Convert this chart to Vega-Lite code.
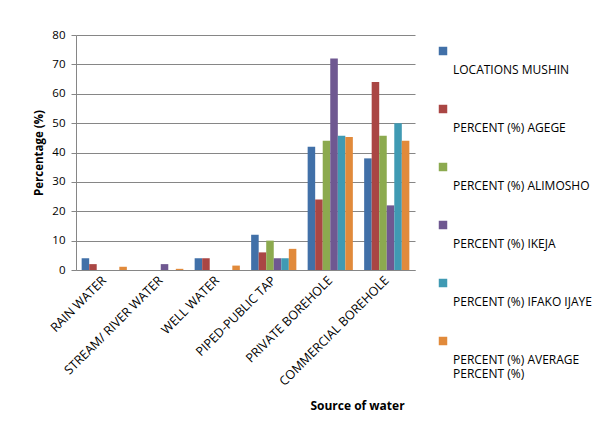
{
  "$schema": "https://vega.github.io/schema/vega-lite/v6.json",
  "width": 339,
  "height": 235,
  "autosize": "none",
  "padding": {"left": 76, "top": 35, "right": 199, "bottom": 151},
  "background": "white",
  "datasets": {
    "water": [
      {"source": "RAIN WATER", "series": "LOCATIONS MUSHIN", "value": 4},
      {"source": "RAIN WATER", "series": "PERCENT (%) AGEGE", "value": 2},
      {"source": "RAIN WATER", "series": "PERCENT (%) ALIMOSHO", "value": 0},
      {"source": "RAIN WATER", "series": "PERCENT (%) IKEJA", "value": 0},
      {"source": "RAIN WATER", "series": "PERCENT (%) IFAKO IJAYE", "value": 0},
      {"source": "RAIN WATER", "series": "PERCENT (%) AVERAGE PERCENT (%)", "value": 1.1},
      {"source": "STREAM/ RIVER WATER", "series": "LOCATIONS MUSHIN", "value": 0},
      {"source": "STREAM/ RIVER WATER", "series": "PERCENT (%) AGEGE", "value": 0},
      {"source": "STREAM/ RIVER WATER", "series": "PERCENT (%) ALIMOSHO", "value": 0},
      {"source": "STREAM/ RIVER WATER", "series": "PERCENT (%) IKEJA", "value": 2},
      {"source": "STREAM/ RIVER WATER", "series": "PERCENT (%) IFAKO IJAYE", "value": 0},
      {"source": "STREAM/ RIVER WATER", "series": "PERCENT (%) AVERAGE PERCENT (%)", "value": 0.4},
      {"source": "WELL WATER", "series": "LOCATIONS MUSHIN", "value": 4},
      {"source": "WELL WATER", "series": "PERCENT (%) AGEGE", "value": 4},
      {"source": "WELL WATER", "series": "PERCENT (%) ALIMOSHO", "value": 0},
      {"source": "WELL WATER", "series": "PERCENT (%) IKEJA", "value": 0},
      {"source": "WELL WATER", "series": "PERCENT (%) IFAKO IJAYE", "value": 0},
      {"source": "WELL WATER", "series": "PERCENT (%) AVERAGE PERCENT (%)", "value": 1.5},
      {"source": "PIPED-PUBLIC TAP", "series": "LOCATIONS MUSHIN", "value": 12},
      {"source": "PIPED-PUBLIC TAP", "series": "PERCENT (%) AGEGE", "value": 6},
      {"source": "PIPED-PUBLIC TAP", "series": "PERCENT (%) ALIMOSHO", "value": 10},
      {"source": "PIPED-PUBLIC TAP", "series": "PERCENT (%) IKEJA", "value": 4},
      {"source": "PIPED-PUBLIC TAP", "series": "PERCENT (%) IFAKO IJAYE", "value": 4},
      {"source": "PIPED-PUBLIC TAP", "series": "PERCENT (%) AVERAGE PERCENT (%)", "value": 7.2},
      {"source": "PRIVATE BOREHOLE", "series": "LOCATIONS MUSHIN", "value": 42},
      {"source": "PRIVATE BOREHOLE", "series": "PERCENT (%) AGEGE", "value": 24},
      {"source": "PRIVATE BOREHOLE", "series": "PERCENT (%) ALIMOSHO", "value": 44},
      {"source": "PRIVATE BOREHOLE", "series": "PERCENT (%) IKEJA", "value": 72},
      {"source": "PRIVATE BOREHOLE", "series": "PERCENT (%) IFAKO IJAYE", "value": 45.7},
      {"source": "PRIVATE BOREHOLE", "series": "PERCENT (%) AVERAGE PERCENT (%)", "value": 45.3},
      {"source": "COMMERCIAL BOREHOLE", "series": "LOCATIONS MUSHIN", "value": 38},
      {"source": "COMMERCIAL BOREHOLE", "series": "PERCENT (%) AGEGE", "value": 64},
      {"source": "COMMERCIAL BOREHOLE", "series": "PERCENT (%) ALIMOSHO", "value": 45.7},
      {"source": "COMMERCIAL BOREHOLE", "series": "PERCENT (%) IKEJA", "value": 22},
      {"source": "COMMERCIAL BOREHOLE", "series": "PERCENT (%) IFAKO IJAYE", "value": 50},
      {"source": "COMMERCIAL BOREHOLE", "series": "PERCENT (%) AVERAGE PERCENT (%)", "value": 44}
    ]
  },
  "data": {"name": "water"},
  "mark": {"type": "bar"},
  "encoding": {
    "x": {
      "field": "source",
      "type": "nominal",
      "sort": null,
      "scale": {"paddingInner": 0.2, "paddingOuter": 0.1},
      "axis": {
        "title": "Source of water",
        "titleFont": "Open Sans",
        "titleFontSize": 12,
        "titleFontWeight": "bold",
        "titleColor": "#000000",
        "titleX": 281,
        "titleY": 135,
        "titleAlign": "center",
        "titleBaseline": "middle",
        "labelAngle": -45,
        "labelAlign": "right",
        "labelBaseline": "middle",
        "labelFont": "Open Sans",
        "labelFontSize": 12.5,
        "labelColor": "#000000",
        "labelPadding": 8,
        "labelLimit": 250,
        "ticks": false,
        "domainColor": "#868686",
        "domainWidth": 1
      }
    },
    "xOffset": {"field": "series", "type": "nominal", "sort": null},
    "y": {
      "field": "value",
      "type": "quantitative",
      "scale": {"domain": [0, 80]},
      "axis": {
        "title": "Percentage (%)",
        "titleFont": "Open Sans",
        "titleFontSize": 11.5,
        "titleFontWeight": "bold",
        "titleColor": "#000000",
        "titlePadding": 7,
        "values": [0, 10, 20, 30, 40, 50, 60, 70, 80],
        "labelFont": "Open Sans",
        "labelFontSize": 11.5,
        "labelColor": "#000000",
        "labelPadding": 6,
        "tickSize": 5,
        "tickColor": "#868686",
        "domainColor": "#868686",
        "gridColor": "#868686",
        "gridWidth": 1
      }
    },
    "color": {
      "field": "series",
      "type": "nominal",
      "sort": null,
      "scale": {
        "domain": ["LOCATIONS MUSHIN", "PERCENT (%) AGEGE", "PERCENT (%) ALIMOSHO", "PERCENT (%) IKEJA", "PERCENT (%) IFAKO IJAYE", "PERCENT (%) AVERAGE PERCENT (%)"],
        "range": ["#4170A8", "#AA4644", "#8CAA4F", "#6F5891", "#409AB3", "#E18A3B"]
      },
      "legend": {
        "title": null,
        "orient": "right",
        "offset": 12,
        "padding": 10,
        "symbolType": "square",
        "symbolSize": 72,
        "symbolStrokeWidth": 0,
        "labelFont": "Open Sans",
        "labelFontSize": 12,
        "labelColor": "#000000",
        "labelBaseline": "top",
        "labelOffset": 4,
        "labelLimit": 300,
        "rowPadding": 27,
        "labelExpr": "datum.label == 'PERCENT (%) AVERAGE PERCENT (%)' ? ['', 'PERCENT (%) AVERAGE', 'PERCENT (%)'] : ['', datum.label]"
      }
    }
  },
  "config": {
    "view": {"stroke": null}
  }
}
